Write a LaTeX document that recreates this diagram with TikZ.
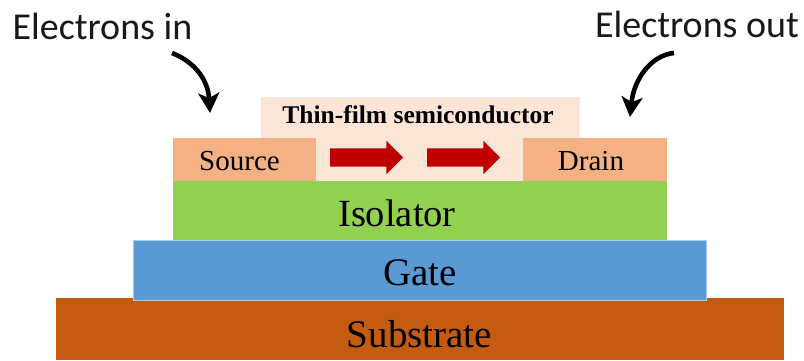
\documentclass[tikz,border=0pt]{standalone}
\usepackage{fontspec}
\setmainfont{Liberation Serif}
\newfontfamily\callabel{Carlito}
\usetikzlibrary{shapes.arrows,arrows.meta}
\definecolor{semi}{HTML}{FBE5D6}
\definecolor{contact}{HTML}{F4B183}
\definecolor{iso}{HTML}{92D050}
\definecolor{gatec}{HTML}{5B9BD5}
\definecolor{gateb}{HTML}{A9CCEA}
\definecolor{subc}{HTML}{C55A11}
\definecolor{redarrow}{HTML}{C00000}
\tikzset{
  layer/.style={inner sep=0pt,outer sep=0pt,anchor=north west,text=black},
  flow/.style={single arrow,fill=redarrow,draw=none,inner xsep=0pt,inner ysep=9pt,outer sep=0pt,minimum height=73pt,single arrow head extend=7.5pt,single arrow head indent=0pt,single arrow tip angle=90},
  elabel/.style={font=\callabel\fontsize{38}{42}\selectfont,inner sep=0pt,text=black!90},
  bigtext/.style={font=\fontsize{39}{42}\selectfont,inner sep=0pt},
  midtext/.style={font=\fontsize{29}{32}\selectfont,inner sep=0pt},
  elec/.style={line width=4.6pt,-{Stealth[length=20pt,width=21pt,inset=5pt]}},
}
\begin{document}
\begin{tikzpicture}[x=1pt,y=-1pt]
\useasboundingbox (0,0) rectangle (804,360);
\fill[white] (0,0) rectangle (804,360);
\node[layer,fill=subc,minimum width=728pt,minimum height=62pt] (substrate) at (56,298) {};
\node[layer,fill=gatec,draw=gateb,line width=1.4pt,minimum width=573pt,minimum height=60pt] (gate) at (133.5,240.5) {};
\node[layer,fill=iso,minimum width=494pt,minimum height=59pt] (isolator) at (173,181) {};
\node[layer,fill=semi,minimum width=319pt,minimum height=84pt] (semi) at (261,97) {};
\node[layer,fill=contact,minimum width=143pt,minimum height=43pt] (source) at (173,138) {};
\node[layer,fill=contact,minimum width=144pt,minimum height=43pt] (drain) at (523,138) {};
\node[bigtext] (tsub) at (419.5,334) {Substrate};
\node[bigtext] (tgate) at (420,273) {Gate};
\node[font=\fontsize{38.5}{42}\selectfont,inner sep=0pt] (tiso) at (397,213) {Isolator};
\node[midtext] (tsrc) at (239.5,161) {Source};
\node[midtext] (tdrn) at (591,161) {Drain};
\node[font=\bfseries\fontsize{25.5}{28}\selectfont,inner sep=0pt] (tsemi) at (418,115) {Thin-film semiconductor};
\node[flow] (f1) at (362,157.5) {};
\node[flow] (f2) at (459,157.5) {};
\node[elabel] (ein) at (102.5,26) {Electrons in};
\node[elabel] (eout) at (697,24) {Electrons out};
\coordinate (a1) at (172,53);
\coordinate (a2) at (210,113);
\coordinate (b1) at (674,53);
\coordinate (b2) at (630,117);
\draw[elec] (a1) .. controls (195,62) and (208,80) .. (a2);
\draw[elec] (b1) .. controls (652,55) and (634,78) .. (b2);
\end{tikzpicture}
\end{document}
